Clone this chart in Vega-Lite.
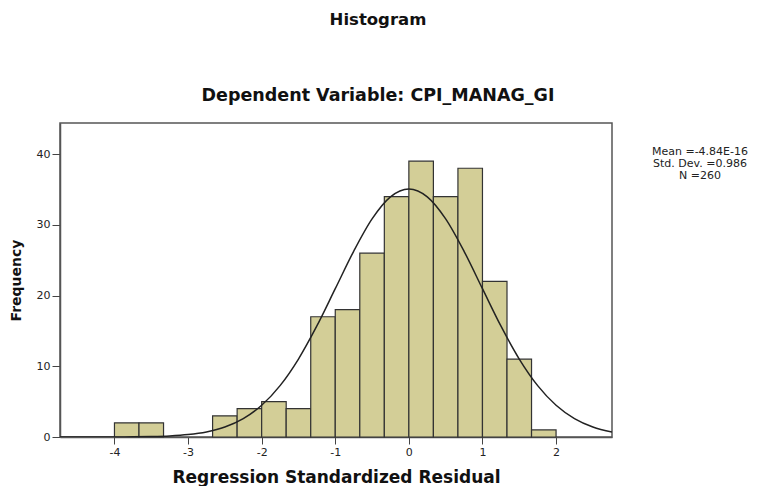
{
  "$schema": "https://vega.github.io/schema/vega-lite/v6.json",
  "autosize": "none",
  "width": 552,
  "height": 314,
  "padding": {"left": 60, "top": 123, "right": 152, "bottom": 49},
  "background": "#ffffff",
  "config": {
    "font": "DejaVu Sans",
    "view": {"fill": "#f0f0f0", "stroke": "#555555", "strokeWidth": 1.5}
  },
  "title": {
    "text": "Histogram",
    "subtitle": "Dependent Variable: CPI_MANAG_GI",
    "font": "DejaVu Sans",
    "fontSize": 16.5,
    "fontWeight": "bold",
    "color": "#111111",
    "subtitleFont": "DejaVu Sans",
    "subtitleFontSize": 17.5,
    "subtitleFontWeight": "bold",
    "subtitleColor": "#111111",
    "subtitlePadding": 58,
    "offset": 19,
    "anchor": "middle",
    "dx": 42
  },
  "datasets": {
    "bins": [
      {"bin_start": -4.0, "bin_end": -3.6667, "count": 2},
      {"bin_start": -3.6667, "bin_end": -3.3333, "count": 2},
      {"bin_start": -2.6667, "bin_end": -2.3333, "count": 3},
      {"bin_start": -2.3333, "bin_end": -2.0, "count": 4},
      {"bin_start": -2.0, "bin_end": -1.6667, "count": 5},
      {"bin_start": -1.6667, "bin_end": -1.3333, "count": 4},
      {"bin_start": -1.3333, "bin_end": -1.0, "count": 17},
      {"bin_start": -1.0, "bin_end": -0.6667, "count": 18},
      {"bin_start": -0.6667, "bin_end": -0.3333, "count": 26},
      {"bin_start": -0.3333, "bin_end": 0.0, "count": 34},
      {"bin_start": 0.0, "bin_end": 0.3333, "count": 39},
      {"bin_start": 0.3333, "bin_end": 0.6667, "count": 34},
      {"bin_start": 0.6667, "bin_end": 1.0, "count": 38},
      {"bin_start": 1.0, "bin_end": 1.3333, "count": 22},
      {"bin_start": 1.3333, "bin_end": 1.6667, "count": 11},
      {"bin_start": 1.6667, "bin_end": 2.0, "count": 1}
    ],
    "curve": [
      {"x": -4.74, "f": 0.0003},
      {"x": -4.5, "f": 0.001},
      {"x": -4.25, "f": 0.0032},
      {"x": -4.0, "f": 0.0094},
      {"x": -3.75, "f": 0.0253},
      {"x": -3.5, "f": 0.0644},
      {"x": -3.25, "f": 0.153},
      {"x": -3.0, "f": 0.343},
      {"x": -2.75, "f": 0.718},
      {"x": -2.5, "f": 1.409},
      {"x": -2.25, "f": 2.596},
      {"x": -2.0, "f": 4.483},
      {"x": -1.75, "f": 7.26},
      {"x": -1.5, "f": 11.025},
      {"x": -1.25, "f": 15.7},
      {"x": -1.0, "f": 20.97},
      {"x": -0.75, "f": 26.26},
      {"x": -0.5, "f": 30.84},
      {"x": -0.25, "f": 33.96},
      {"x": 0.0, "f": 35.07},
      {"x": 0.25, "f": 33.96},
      {"x": 0.5, "f": 30.84},
      {"x": 0.75, "f": 26.26},
      {"x": 1.0, "f": 20.97},
      {"x": 1.25, "f": 15.7},
      {"x": 1.5, "f": 11.025},
      {"x": 1.75, "f": 7.26},
      {"x": 2.0, "f": 4.483},
      {"x": 2.25, "f": 2.596},
      {"x": 2.5, "f": 1.409},
      {"x": 2.76, "f": 0.698}
    ],
    "stats": [
      {"stat": "Mean =-4.84E-16"},
      {"stat": "Std. Dev. =0.986"},
      {"stat": "N =260"}
    ]
  },
  "layer": [
    {
      "data": {"name": "bins"},
      "mark": {"type": "rect", "fill": "#d3ce97", "stroke": "#333333", "strokeWidth": 1.2},
      "encoding": {
        "x": {
          "field": "bin_start",
          "type": "quantitative",
          "scale": {"domain": [-4.74, 2.76], "nice": false, "zero": false},
          "axis": {
            "values": [-4, -3, -2, -1, 0, 1, 2],
            "labelExpr": "datum.value + ''",
            "grid": false,
            "domainColor": "#555555",
            "domainWidth": 1.5,
            "tickColor": "#444444",
            "tickSize": 7,
            "labelPadding": 2,
            "labelFont": "DejaVu Sans",
            "labelFontSize": 11,
            "labelColor": "#222222",
            "title": "Regression Standardized Residual",
            "titleFont": "DejaVu Sans",
            "titleFontSize": 17,
            "titleFontWeight": "bold",
            "titleColor": "#111111",
            "titleBaseline": "middle",
            "titleY": 40
          }
        },
        "x2": {"field": "bin_end"},
        "y": {
          "field": "count",
          "type": "quantitative",
          "scale": {"domain": [0, 44.4], "nice": false},
          "axis": {
            "values": [0, 10, 20, 30, 40],
            "grid": false,
            "domainColor": "#555555",
            "domainWidth": 1.5,
            "tickColor": "#444444",
            "tickSize": 8,
            "labelPadding": 2,
            "labelFont": "DejaVu Sans",
            "labelFontSize": 11,
            "labelColor": "#222222",
            "title": "Frequency",
            "titleFont": "DejaVu Sans",
            "titleFontSize": 14,
            "titleFontWeight": "bold",
            "titleColor": "#111111",
            "titleBaseline": "middle",
            "titleX": -44
          }
        },
        "y2": {"datum": 0}
      }
    },
    {
      "data": {"name": "curve"},
      "mark": {"type": "line", "color": "#222222", "strokeWidth": 1.5, "interpolate": "monotone", "clip": true},
      "encoding": {
        "x": {"field": "x", "type": "quantitative"},
        "y": {"field": "f", "type": "quantitative"}
      }
    },
    {
      "data": {"name": "stats"},
      "mark": {"type": "point", "opacity": 0},
      "encoding": {
        "color": {
          "field": "stat",
          "type": "nominal",
          "scale": {"domain": ["Mean =-4.84E-16", "Std. Dev. =0.986", "N =260"], "range": ["#ffffff", "#ffffff", "#ffffff"]},
          "legend": {
            "orient": "none",
            "legendX": 629,
            "legendY": 23,
            "title": null,
            "symbolSize": 0,
            "symbolStrokeWidth": 0,
            "symbolOpacity": 0,
            "labelAlign": "center",
            "labelOffset": 0,
            "labelFont": "DejaVu Sans",
            "labelFontSize": 11,
            "labelColor": "#222222",
            "rowPadding": 0
          }
        }
      }
    }
  ]
}
